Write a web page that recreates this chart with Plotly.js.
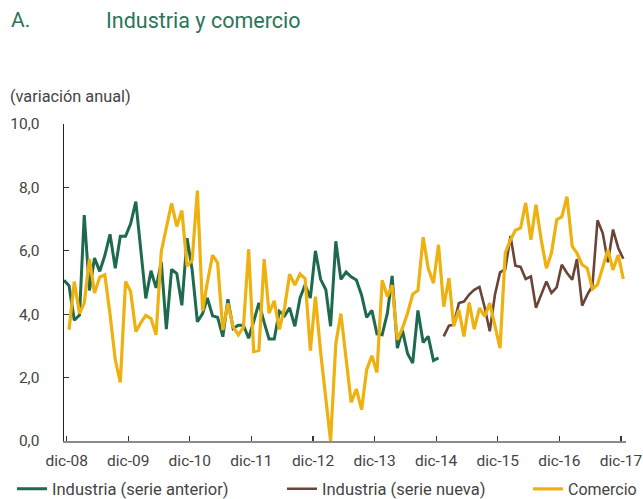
<!DOCTYPE html>
<html>
<head>
<meta charset="utf-8">
<script src="https://cdn.plot.ly/plotly-3.0.1.min.js"></script>
<style>html,body{margin:0;padding:0;background:#fff;}#chart{width:643px;height:499px;}</style>
</head>
<body>
<div id="chart"></div>
<script>
// ---- Data (annual % change, monthly) ----
const industriaAnteriorStart = [2008, 11];
const industriaAnterior = [
  5.07, 4.9, 3.81, 3.97, 7.13, 4.75, 5.77, 5.35, 5.85, 6.52,
  5.45, 6.46, 6.46, 6.85, 7.55, 6.0, 4.5, 5.37, 4.83, 5.64,
  3.53, 5.41, 5.28, 4.28, 6.4, 5.4, 3.76, 4.02, 4.51, 3.95,
  3.9, 3.29, 4.47, 3.55, 3.65, 3.65, 3.24, 3.77, 4.36, 3.74,
  3.22, 3.22, 4.09, 3.95, 4.2, 3.62, 4.51, 4.93, 4.51, 6.0,
  5.1, 4.77, 3.62, 6.3, 5.1, 5.33, 5.18, 5.08, 4.6, 3.9,
  4.12, 3.38, 3.35, 4.04, 5.21, 2.93, 3.49, 2.75, 2.46, 4.12,
  3.11, 3.3, 2.54, 2.62
];
const industriaNuevaStart = [2015, 1];
const industriaNueva = [
  3.3, 3.64, 3.67, 4.35, 4.4, 4.62, 4.77, 4.86, 4.21, 3.46,
  4.62, 5.32, 5.42, 6.47, 5.53, 5.49, 5.11, 5.19, 4.2, 4.61,
  5.03, 4.67, 4.85, 5.56, 5.3, 5.09, 5.74, 4.27, 4.61, 4.9,
  6.96, 6.56, 5.64, 6.67, 6.09, 5.75
];
const comercioStart = [2008, 12];
const comercio = [
  3.51, 5.03, 4.02, 4.35, 5.74, 4.67, 5.17, 5.24, 4.0, 2.56,
  1.85, 5.03, 4.72, 3.45, 3.74, 3.96, 3.86, 3.35, 5.98, 6.7,
  7.5, 6.77, 7.27, 5.52, 5.7, 7.9, 4.1, 5.0, 5.86, 5.62,
  3.5, 4.34, 3.6, 3.35, 3.58, 6.05, 2.82, 2.86, 5.74, 4.03,
  4.42, 3.52, 4.2, 5.26, 4.92, 5.27, 5.12, 2.85, 4.55, 2.8,
  1.35, 0.0, 3.07, 4.02, 2.6, 1.22, 1.64, 0.99, 2.25, 2.69,
  2.16, 5.07, 4.56, 4.92, 3.19, 3.56, 4.04, 4.63, 4.75, 6.43,
  5.45, 4.98, 6.19, 4.24, 5.14, 3.62, 4.14, 3.3, 4.37, 3.53,
  4.19, 3.93, 4.35, 3.62, 2.93, 5.93, 6.35, 6.65, 6.72, 7.51,
  6.35, 7.45, 6.35, 5.45, 5.93, 6.98, 7.07, 7.71, 6.14, 5.93,
  5.56, 5.45, 4.79, 4.93, 5.45, 6.03, 5.4, 5.87, 5.11
];
const tickDates = ['2008-12-01','2009-12-01','2010-12-01','2011-12-01','2012-12-01',
                   '2013-12-01','2014-12-01','2015-12-01','2016-12-01','2017-12-01'];
const tickLabels = ['dic-08','dic-09','dic-10','dic-11','dic-12','dic-13','dic-14','dic-15','dic-16','dic-17'];
const yTicks = [0, 2, 4, 6, 8, 10];
const seriesNames = ['Industria (serie anterior)', 'Industria (serie nueva)', 'Comercio'];

// ---- helpers ----
function monthDates(start, n) {
  const out = [];
  let y = start[0], m = start[1];
  for (let i = 0; i < n; i++) {
    out.push(y + '-' + String(m).padStart(2, '0') + '-15');
    m++; if (m > 12) { m = 1; y++; }
  }
  return out;
}

const W = 643, H = 499;
const M = {l: 64, r: 17, t: 124, b: 58};
const pw = W - M.l - M.r, ph = H - M.t - M.b;
const px = x => (x - M.l) / pw;
const py = y => (H - M.b - y) / ph;
const cx = x => x / W;
const cy = y => (H - y) / H;

const GREEN = '#1e6a4e', BROWN = '#6b4437', YELLOW = '#efb10f', TITLE = '#2b7558', TXT = '#444444';
const FONT = 'Roboto, "Noto Sans", sans-serif';

const traces = [
  {x: monthDates(industriaAnteriorStart, industriaAnterior.length), y: industriaAnterior,
   name: seriesNames[0], type: 'scatter', mode: 'lines',
   line: {color: GREEN, width: 3}, legend: 'legend'},
  {x: monthDates(industriaNuevaStart, industriaNueva.length), y: industriaNueva,
   name: seriesNames[1], type: 'scatter', mode: 'lines',
   line: {color: BROWN, width: 2.6}, legend: 'legend2'},
  {x: monthDates(comercioStart, comercio.length), y: comercio,
   name: seriesNames[2], type: 'scatter', mode: 'lines',
   line: {color: YELLOW, width: 3.2}, legend: 'legend3'}
];

const legendBase = {orientation: 'h', xref: 'container', yref: 'container',
  xanchor: 'left', yanchor: 'middle', y: cy(489),
  font: {family: FONT, size: 16.5, color: TXT}, bgcolor: 'rgba(0,0,0,0)', borderwidth: 0};

const layout = {
  width: W, height: H,
  margin: Object.assign({autoexpand: false}, M),
  paper_bgcolor: '#ffffff', plot_bgcolor: '#ffffff',
  font: {family: FONT, size: 15, color: TXT},
  separators: ',.',
  showlegend: true,
  legend: Object.assign({}, legendBase, {x: cx(12)}),
  legend2: Object.assign({}, legendBase, {x: cx(282)}),
  legend3: Object.assign({}, legendBase, {x: cx(528), font: {family: FONT, size: 16, color: TXT}}),
  xaxis: {
    type: 'date', range: ['2008-11-15', '2017-12-31'],
    tickmode: 'array', tickvals: tickDates, ticktext: tickLabels,
    ticks: 'inside', ticklen: 5, tickwidth: 1.2, tickcolor: '#333',
    showline: true, linecolor: '#8a8a8a', linewidth: 1.5,
    showgrid: false, zeroline: false,
    tickfont: {family: FONT, size: 15.5, color: TXT}, ticklabelstandoff: 5
  },
  yaxis: {
    range: [0, 10], tickmode: 'array', tickvals: yTicks, tickformat: '.1f',
    ticks: 'inside', ticklen: 5, tickwidth: 1.2, tickcolor: '#333',
    showline: true, linecolor: '#222', linewidth: 1.5,
    showgrid: false, zeroline: false,
    tickfont: {family: FONT, size: 15.5, color: TXT}, ticklabelstandoff: 20
  },
  annotations: [
    {text: 'A.', xref: 'paper', yref: 'paper', x: px(9), y: py(20), xanchor: 'left', yanchor: 'middle',
     showarrow: false, font: {family: FONT, size: 21, color: TITLE}},
    {text: 'Industria y comercio', xref: 'paper', yref: 'paper', x: px(104), y: py(20), xanchor: 'left', yanchor: 'middle',
     showarrow: false, font: {family: FONT, size: 21.5, color: TITLE}},
    {text: '(variación anual)', xref: 'paper', yref: 'paper', x: px(8), y: py(96), xanchor: 'left', yanchor: 'middle',
     showarrow: false, font: {family: FONT, size: 16.3, color: TXT}}
  ]
};

Plotly.newPlot('chart', traces, layout, {staticPlot: true, displayModeBar: false});
</script>
</body>
</html>
